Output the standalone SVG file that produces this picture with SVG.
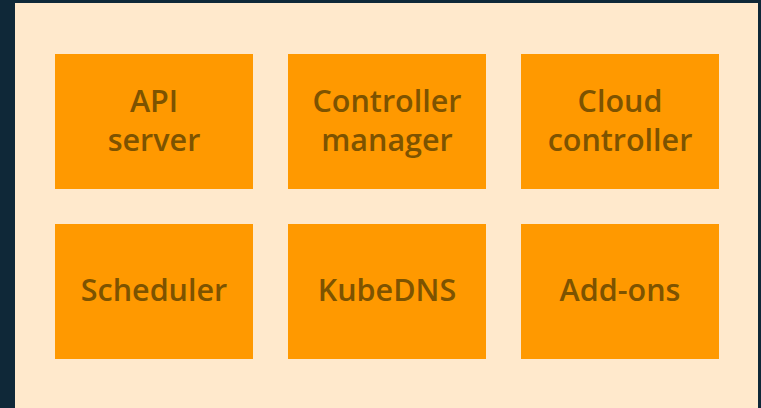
<svg xmlns="http://www.w3.org/2000/svg" width="761" height="408" viewBox="0 0 761 408">
  <style>
    .box { fill: #FF9900; }
    .lbl { font-family: "Open Sans", "Noto Sans", "Liberation Sans", sans-serif; font-weight: 600; font-size: 30.5px; fill: #7D5300; text-anchor: middle; }
  </style>
  <!-- backdrop and panel -->
  <rect x="0" y="0" width="761" height="408" fill="#0F2838"/>
  <rect x="15" y="3" width="743" height="405" fill="#FFE9CC"/>

  <g id="api-server">
    <rect class="box" x="55" y="54" width="198" height="135"/>
    <text class="lbl" x="154" y="112">API</text>
    <text class="lbl" x="154" y="151">server</text>
  </g>
  <g id="controller-manager">
    <rect class="box" x="288" y="54" width="198" height="135"/>
    <text class="lbl" x="387" y="112">Controller</text>
    <text class="lbl" x="387" y="151">manager</text>
  </g>
  <g id="cloud-controller">
    <rect class="box" x="521" y="54" width="198" height="135"/>
    <text class="lbl" x="620" y="112">Cloud</text>
    <text class="lbl" x="620" y="151">controller</text>
  </g>
  <g id="scheduler">
    <rect class="box" x="55" y="224" width="198" height="135"/>
    <text class="lbl" x="154" y="301">Scheduler</text>
  </g>
  <g id="kubedns">
    <rect class="box" x="288" y="224" width="198" height="135"/>
    <text class="lbl" x="387" y="301">KubeDNS</text>
  </g>
  <g id="add-ons">
    <rect class="box" x="521" y="224" width="198" height="135"/>
    <text class="lbl" x="620" y="301">Add-ons</text>
  </g>
  <g id="connectors"></g>
</svg>
